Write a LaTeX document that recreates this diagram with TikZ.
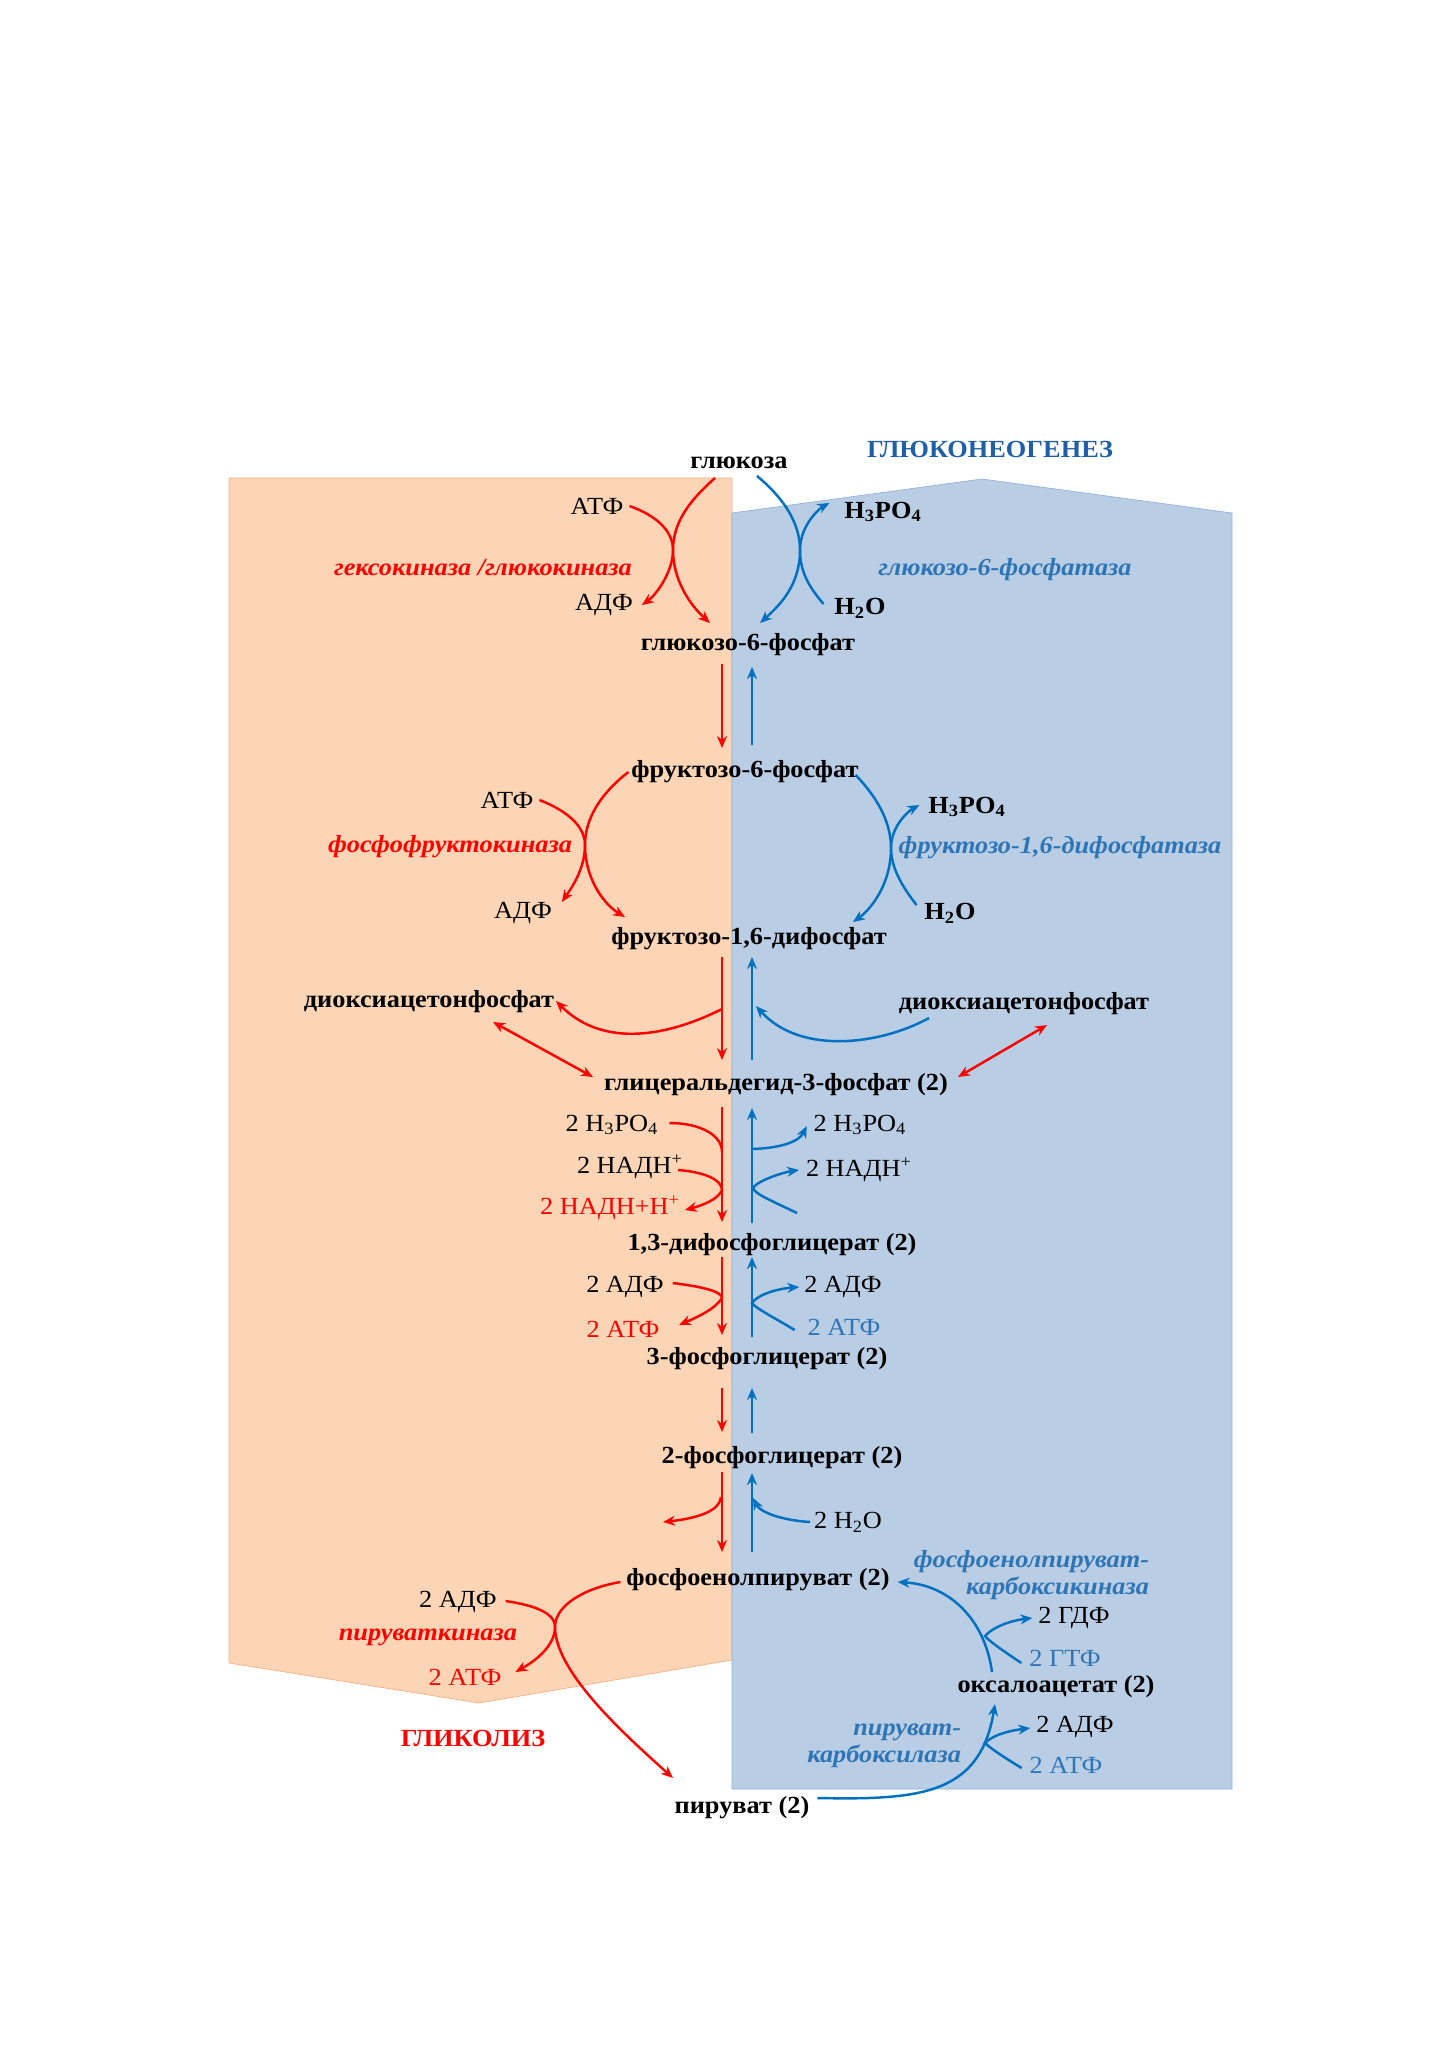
\documentclass[tikz,border=0pt]{standalone}
\usepackage{fontspec}
\setmainfont{Liberation Serif}[FakeStretch=1.07]
\usepackage{tikz}
\usetikzlibrary{positioning,arrows.meta,calc}
\usepackage{xcolor}
\definecolor{glyfill}{HTML}{FBD5B5}
\definecolor{glyedge}{HTML}{F4B183}
\definecolor{gngfill}{HTML}{B9CDE5}
\definecolor{gngedge}{HTML}{95B3D7}
\definecolor{gngblue}{HTML}{0070C0}
\definecolor{gngtext}{HTML}{2E75B6}
\definecolor{gngtitle}{HTML}{1F5FA8}
\definecolor{glyred}{HTML}{FF0000}
\newcommand{\fs}{\fontsize{14}{15.5}\selectfont}

\begin{document}
\begin{tikzpicture}[x=0.2mm, y=-0.2mm,
    met/.style={font=\fs\bfseries, inner sep=1.5pt},
    side/.style={font=\fs, inner sep=1.5pt},
    sideb/.style={font=\fs\bfseries, inner sep=1.5pt},
    enz/.style={font=\fs\bfseries\itshape, inner sep=1.5pt},
    headtxt/.style={font=\fontsize{14}{16}\selectfont\bfseries},
    redarr/.style={-{Stealth[length=2.4mm,width=2mm]}, glyred, line width=1.4pt},
    bluearr/.style={-{Stealth[length=2.4mm,width=2mm]}, gngblue, line width=1.4pt},
    redboth/.style={{Stealth[length=2.4mm,width=2mm]}-{Stealth[length=2.4mm,width=2mm]}, glyred, line width=1.4pt},
    redline/.style={glyred, line width=1.4pt},
    blueline/.style={gngblue, line width=1.4pt}
]
\useasboundingbox (0,0) rectangle (1449,2050);

% background panels
\fill[glyfill, draw=glyedge] (229,478) -- (732,478) -- (732,1660) -- (479,1703) -- (229,1663) -- cycle;
\fill[gngfill, draw=gngedge] (732,513) -- (982,479) -- (1232,513) -- (1232,1789) -- (732,1789) -- cycle;

% titles
\node[headtxt, gngtitle] (gngTitle) at (990,449) {ГЛЮКОНЕОГЕНЕЗ};
\node[headtxt, glyred] (glyTitle) at (473,1738) {ГЛИКОЛИЗ};

% metabolites
\node[met] (glc) at (739,463) {глюкоза};
\node[met] (g6p) at (748,645) {глюкозо-6-фосфат};
\node[met] (f6p) at (745,772) {фруктозо-6-фосфат};
\node[met] (fbp) at (749,939) {фруктозо-1,6-дифосфат};
\node[met] (dhapL) at (429,1002) {диоксиацетонфосфат};
\node[met] (dhapR) at (1024,1004) {диоксиацетонфосфат};
\node[met] (gap) at (776,1085) {глицеральдегид-3-фосфат (2)};
\node[met] (bpg) at (772,1245) {1,3-дифосфоглицерат (2)};
\node[met] (pgthree) at (767,1359) {3-фосфоглицерат (2)};
\node[met] (pgtwo) at (782,1458) {2-фосфоглицерат (2)};
\node[met] (pep) at (758,1580) {фосфоенолпируват (2)};
\node[met] (oaa) at (1056,1687) {оксалоацетат (2)};
\node[met] (pyr) at (742,1808) {пируват (2)};

% hexokinase / glucose-6-phosphatase
\node[side] (atpA) at (597,506) {АТФ};
\node[side] (adpA) at (604,605) {АДФ};
\node[enz, glyred] (hk) at (483,568) {гексокиназа /глюкокиназа};
\node[sideb] (phA) at (883,512) {H\textsubscript{3}PO\textsubscript{4}};
\node[sideb] (wA) at (860,608) {H\textsubscript{2}O};
\node[enz, gngtext] (gsix) at (1005,570) {глюкозо-6-фосфатаза};
\coordinate (hkX) at (673,550);
\coordinate (gsX) at (800,550);

\draw[redarr] ($(glc)+(-24,15)$) .. controls (690,500) and (673,522) .. (hkX)
    .. controls (673,580) and (690,605) .. ($(g6p)+(-38,-22)$);
\draw[redarr] ($(atpA.east)+(3,0)$) .. controls (655,515) and (673,530) .. (hkX)
    .. controls (673,572) and (656,595) .. ($(adpA.east)+(6,0)$);
\draw[bluearr] ($(glc)+(18,13)$) .. controls (780,495) and (800,520) .. (gsX)
    .. controls (800,585) and (780,605) .. ($(g6p)+(12,-22)$);
\draw[bluearr] ($(wA.west)+(-8,-4)$) .. controls (812,590) and (800,575) .. (gsX)
    .. controls (800,525) and (820,508) .. ($(phA.west)+(-12,-9)$);

% phosphofructokinase / fructose-1,6-bisphosphatase
\node[side] (atpB) at (507,800) {АТФ};
\node[side] (adpB) at (523,913) {АДФ};
\node[enz, glyred] (pfk) at (450,847) {фосфофруктокиназа};
\node[sideb] (phB) at (967,807) {H\textsubscript{3}PO\textsubscript{4}};
\node[sideb] (wB) at (950,913) {H\textsubscript{2}O};
\node[enz, gngtext] (fbpase) at (1060,848) {фруктозо-1,6-дифосфатаза};
\coordinate (pfkX) at (585,845);
\coordinate (fbX) at (891,848);

\draw[redarr] (f6p.west) .. controls (605,790) and (585,815) .. (pfkX)
    .. controls (585,880) and (605,905) .. ($(fbp)+(-124,-22)$);
\draw[redarr] ($(atpB.east)+(3,0)$) .. controls (565,810) and (585,825) .. (pfkX)
    .. controls (585,870) and (570,890) .. ($(adpB.east)+(7,-11)$);
\draw[bluearr] ($(f6p.east)+(-6,3)$) .. controls (875,795) and (891,820) .. (fbX)
    .. controls (891,885) and (870,910) .. ($(fbp)+(104,-17)$);
\draw[bluearr] ($(wB.west)+(-5,-8)$) .. controls (905,890) and (891,870) .. (fbX)
    .. controls (891,825) and (910,810) .. ($(phB.west)+(-6,-2)$);

% lanes of the two pathways
\coordinate (rl) at (722,0);
\coordinate (bl) at (752,0);

\draw[redarr] ($(g6p -| rl)+(0,19)$) -- ($(f6p -| rl)+(0,-24)$);
\draw[bluearr] ($(f6p -| bl)+(0,-27)$) -- ($(g6p -| bl)+(0,22)$);

% aldolase / triose phosphate isomerase
\draw[redarr] ($(fbp -| rl)+(0,18)$) -- ($(gap -| rl)+(0,-25)$);
\draw[bluearr] ($(gap -| bl)+(0,-25)$) -- ($(fbp -| bl)+(0,18)$);
\coordinate (rJoin) at ($(fbp -| rl)+(0,70)$);
\coordinate (bJoin) at ($(fbp -| bl)+(4,67)$);
\draw[redarr] (rJoin) .. controls (660,1040) and (600,1045) .. ($(dhapL)+(127,-1)$);
\draw[bluearr] ($(dhapR)+(-95,14)$) .. controls (880,1045) and (800,1055) .. (bJoin);
\draw[redboth] ($(dhapL)+(64,20)$) -- ($(gap)+(-183,-8)$);
\draw[redboth] ($(dhapR)+(23,21)$) -- ($(gap)+(182,-8)$);

% glyceraldehyde-3-phosphate dehydrogenase
\node[side] (phL) at (612,1125) {2 H\textsubscript{3}PO\textsubscript{4}};
\node[side] (nadL) at (630,1167) {2 НАДН\textsuperscript{+}};
\node[side, glyred] (nadhL) at (610,1208) {2 НАДН+Н\textsuperscript{+}};
\node[side] (phR) at (860,1125) {2 H\textsubscript{3}PO\textsubscript{4}};
\node[side] (nadR) at (859,1170) {2 НАДН\textsuperscript{+}};

\draw[redarr] ($(gap -| rl)+(0,22)$) -- ($(bpg -| rl)+(0,-23)$);
\draw[bluearr] ($(bpg -| bl)+(0,-22)$) -- ($(gap -| bl)+(0,23)$);
\draw[redline] ($(phL.east)+(8,-2)$) .. controls (700,1123) and (722,1135) .. ($(gap -| rl)+(0,67)$);
\draw[redarr] ($(nadL.east)+(-8,3)$) .. controls (705,1172) and (722,1180) .. ($(gap -| rl)+(0,105)$)
    .. controls (718,1200) and (700,1206) .. ($(nadhL.east)+(2,2)$);
\draw[bluearr] ($(gap -| bl)+(0,64)$) .. controls (785,1148) and (800,1140) .. ($(phR.west)+(-4,1)$);
\draw[bluearr] ($(nadR)+(-62,43)$) .. controls (770,1200) and (755,1194) .. ($(gap -| bl)+(1,103)$)
    .. controls (758,1180) and (785,1172) .. ($(nadR.west)+(-4,0)$);

% phosphoglycerate kinase
\node[side] (adpL) at (625,1287) {2 АДФ};
\node[side, glyred] (atpL) at (623,1329) {2 АТФ};
\node[side] (adpR) at (843,1287) {2 АДФ};
\node[side, gngtext] (atpR) at (844,1327) {2 АТФ};

\draw[redarr] ($(bpg -| rl)+(0,12)$) -- ($(pgthree -| rl)+(0,-24)$);
\draw[bluearr] ($(pgthree -| bl)+(0,-22)$) -- ($(bpg -| bl)+(0,12)$);
\draw[redarr] ($(adpL.east)+(6,-4)$) .. controls (705,1287) and (722,1292) .. ($(bpg -| rl)+(0,53)$)
    .. controls (716,1308) and (700,1316) .. ($(atpL)+(56,-4)$);
\draw[bluearr] ($(atpR.west)+(-10,3)$) .. controls (775,1318) and (755,1308) .. ($(bpg -| bl)+(0,58)$)
    .. controls (760,1292) and (785,1288) .. ($(adpR.west)+(-2,0)$);

% phosphoglycerate mutase
\draw[redarr] ($(pgthree -| rl)+(0,29)$) -- ($(pgtwo -| rl)+(0,-26)$);
\draw[bluearr] ($(pgtwo -| bl)+(0,-25)$) -- ($(pgthree -| bl)+(0,29)$);

% enolase
\node[side] (wR) at (848,1522) {2 H\textsubscript{2}O};
\coordinate (wOut) at ($(pep)+(-95,-58)$);
\draw[redarr] ($(pgtwo -| rl)+(0,14)$) -- ($(pep -| rl)+(0,-28)$);
\draw[bluearr] ($(pep -| bl)+(0,-28)$) -- ($(pgtwo -| bl)+(0,15)$);
\draw[redarr] ($(pgtwo -| rl)+(-1,39)$) .. controls (720,1510) and (700,1518) .. (wOut);
\draw[bluearr] ($(wR.west)+(-1,0)$) .. controls (780,1520) and (760,1512) .. ($(pgtwo -| bl)+(1,40)$);

% pyruvate kinase
\node[side] (adpK) at (458,1602) {2 АДФ};
\node[enz, glyred, anchor=east] (pk) at (520,1637) {пируваткиназа};
\node[side, glyred] (atpK) at (465,1677) {2 АТФ};
\coordinate (pkX) at (555,1627);

\draw[redarr] ($(pep.west)+(-3,2)$) .. controls (585,1588) and (555,1605) .. (pkX)
    .. controls (555,1672) and (625,1735) .. ($(pyr)+(-69,-30)$);
\draw[redarr] ($(adpK.east)+(6,-1)$) .. controls (532,1605) and (555,1612) .. (pkX)
    .. controls (555,1645) and (537,1660) .. ($(atpK.east)+(11,-5)$);

% pyruvate carboxylase
\node[enz, gngtext, anchor=east, align=right] (pc) at (964,1746) {пируват-\\карбоксилаза};
\node[side] (adpC) at (1075,1727) {2 АДФ};
\node[side, gngtext] (atpC) at (1066,1765) {2 АТФ};
\coordinate (pcJoin) at ($(oaa)+(-71,56)$);

\draw[bluearr] ($(pyr.east)+(5,-10)$) .. controls (920,1800) and (980,1795) .. ($(oaa)+(-61,17)$);
\draw[bluearr] ($(atpC.west)+(-5,3)$) .. controls (1005,1758) and (990,1748) .. (pcJoin)
    .. controls (995,1733) and (1015,1730) .. ($(adpC.west)+(-3,1)$);

% PEP carboxykinase
\node[enz, gngtext, anchor=east, align=right] (pepck) at (1152,1575) {фосфоенолпируват-\\карбоксикиназа};
\node[side] (gdp) at (1074,1618) {2 ГДФ};
\node[side, gngtext] (gtp) at (1065,1658) {2 ГТФ};
\coordinate (ckJoin) at ($(oaa)+(-71,-51)$);

\draw[bluearr] ($(oaa)+(-64,-15)$) .. controls (985,1620) and (950,1585) .. ($(pep.east)+(5,2)$);
\draw[bluearr] ($(gtp.west)+(-5,5)$) .. controls (1005,1652) and (990,1642) .. (ckJoin)
    .. controls (995,1625) and (1015,1620) .. ($(gdp.west)+(-3,0)$);
\end{tikzpicture}
\end{document}
